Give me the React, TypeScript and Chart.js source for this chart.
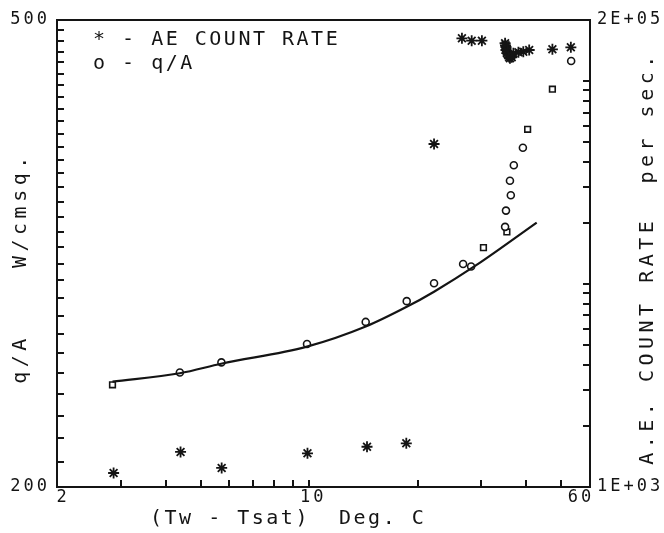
import React, { useEffect, useRef } from "react";
import { Chart, registerables } from "chart.js";

Chart.register(...registerables);

// q/A (W/cmsq.) measured points
const QA_X = [2.85, 4.38, 5.71, 9.86, 14.34, 18.63, 22.18, 26.7, 28.1, 30.4, 35.3, 34.9, 35.1, 36.2, 36.0, 36.9, 39.1, 40.3, 47.2, 53.2];
const QA_Y = [244.4, 250.4, 255.4, 264.8, 276.5, 288.0, 298.3, 309.8, 308.3, 319.9, 329.9, 333.2, 344.0, 354.5, 364.8, 376.0, 389.2, 403.5, 436.5, 461.3];
const QA_SQUARE = [0, 9, 10, 17, 18];

// fitted curve
const FIT_X = [2.85, 4.38, 5.7, 9.86, 14.34, 18.63, 22.18, 29.1, 42.7];
const FIT_Y = [245.9, 250.0, 254.7, 263.4, 274.0, 284.8, 293.4, 309.2, 336.0];

// AE count rate (per sec.)
const AE_X = [2.87, 4.40, 5.72, 9.89, 14.46, 18.58, 22.18, 26.5, 28.2, 30.1, 34.9, 35.0, 35.1, 35.1, 35.3, 35.4, 35.6, 35.8, 36.0, 36.2, 36.4, 36.8, 38.0, 39.2, 40.7, 47.2, 53.1];
const AE_Y = [1172, 1488, 1241, 1466, 1579, 1642, 48980, 162500, 158200, 158200, 153600, 150000, 147200, 142300, 137500, 140000, 134500, 131400, 129500, 132900, 131000, 137100, 138700, 139600, 142300, 143400, 146700];

// axis ticks
const X_TICKS = [3, 4, 5, 6, 7, 8, 9, 10, 20, 30, 40, 50];
const Y_TICKS = [210, 220, 230, 240, 250, 260, 270, 280, 290, 300, 310, 320, 330, 340, 350, 360, 370, 380, 390, 400, 410, 420, 430, 440, 450, 460, 470, 480, 490];
const Y2_TICKS = [2000, 3000, 4000, 5000, 6000, 7000, 8000, 9000, 10000, 20000, 30000, 40000, 50000, 60000, 70000, 80000, 90000, 100000];
const X_LABELS = [[2, "2"], [10, "10"], [60, "60"]] as [number, string][];
const Y_LABELS = [[500, "500"], [200, "200"]] as [number, string][];
const Y2_LABELS = [[200000, "2E+05"], [1000, "1E+03"]] as [number, string][];

const X_TITLE = "(Tw - Tsat)  Deg. C";
const Y_TITLE = "q/A    W/cmsq.";
const Y2_TITLE = "A.E. COUNT RATE  per sec.";
const LEGEND_AE = "* - AE COUNT RATE";
const LEGEND_QA = "o - q/A";

const INK = "#141414";
const MONO = '"DejaVu Sans Mono", monospace';

const plotterPlugin = {
  id: "plotter",
  afterDraw(chart: any) {
    const { ctx, chartArea: a, scales } = chart;
    const sx = scales.x, sy = scales.y, sy2 = scales.y2;
    ctx.save();
    ctx.strokeStyle = INK;
    ctx.fillStyle = INK;
    ctx.lineWidth = 2;
    ctx.lineCap = "butt";
    ctx.beginPath();
    ctx.moveTo(a.left, a.top);
    ctx.lineTo(a.right, a.top);
    ctx.stroke();
    ctx.beginPath();
    for (const v of X_TICKS) {
      const p = Math.round(sx.getPixelForValue(v));
      ctx.moveTo(p, a.bottom);
      ctx.lineTo(p, a.bottom - 7);
    }
    for (const v of Y_TICKS) {
      const p = Math.round(sy.getPixelForValue(v));
      ctx.moveTo(a.left, p);
      ctx.lineTo(a.left + 7, p);
    }
    for (const v of Y2_TICKS) {
      const p = Math.round(sy2.getPixelForValue(v));
      ctx.moveTo(a.right, p);
      ctx.lineTo(a.right - 7, p);
    }
    ctx.stroke();

    // tick labels
    ctx.font = "17px " + MONO;
    (ctx as any).letterSpacing = "3px";
    ctx.textBaseline = "middle";
    ctx.textAlign = "right";
    for (const [v, s] of Y_LABELS) ctx.fillText(s, a.left - 7, sy.getPixelForValue(v));
    ctx.textAlign = "left";
    for (const [v, s] of Y2_LABELS) ctx.fillText(s, a.right + 7, sy2.getPixelForValue(v));
    ctx.textAlign = "center";
    X_LABELS.forEach(([v, s], i) => {
      const off = i === 0 ? 6 : i === 1 ? 4 : -9;
      ctx.fillText(s, sx.getPixelForValue(v) + off, a.bottom + 11);
    });

    // titles
    ctx.font = "20px " + MONO;
    (ctx as any).letterSpacing = "2.5px";
    ctx.textAlign = "left";
    ctx.fillText(X_TITLE, 150, 519);

    ctx.save();
    (ctx as any).letterSpacing = "4.5px";
    ctx.translate(21, 268);
    ctx.rotate(-Math.PI / 2);
    ctx.textAlign = "center";
    ctx.fillText(Y_TITLE, 0, 0);
    ctx.restore();

    ctx.save();
    (ctx as any).letterSpacing = "4.5px";
    ctx.translate(648, 258);
    ctx.rotate(-Math.PI / 2);
    ctx.textAlign = "center";
    ctx.fillText(Y2_TITLE, 0, 0);
    ctx.restore();

    // legend
    ctx.textAlign = "left";
    ctx.fillText(LEGEND_AE, 93, 40);
    ctx.fillText(LEGEND_QA, 93, 64);
    ctx.restore();
  },
};

export default function App() {
  const ref = useRef<HTMLCanvasElement | null>(null);
  useEffect(() => {
    if (!ref.current) return;
    const qa = QA_X.map((x, i) => ({ x, y: QA_Y[i] }));
    const fit = FIT_X.map((x, i) => ({ x, y: FIT_Y[i] }));
    const ae = AE_X.map((x, i) => ({ x, y: AE_Y[i] }));
    const chart = new Chart(ref.current, {
      type: "scatter",
      data: {
        datasets: [
          {
            label: "fit",
            type: "line",
            data: fit,
            yAxisID: "y",
            borderColor: INK,
            borderWidth: 2.2,
            pointRadius: 0,
            showLine: true,
            tension: 0.4,
            cubicInterpolationMode: "monotone",
            fill: false,
          } as any,
          {
            label: "q/A",
            data: qa,
            yAxisID: "y",
            pointStyle: (c: any) => (QA_SQUARE.includes(c.dataIndex) ? "rect" : "circle"),
            pointRadius: (c: any) => (QA_SQUARE.includes(c.dataIndex) ? 4 : 3.5),
            borderColor: INK,
            backgroundColor: "#ffffff",
            borderWidth: 1.6,
          } as any,
          {
            label: "AE COUNT RATE",
            data: ae,
            yAxisID: "y2",
            pointStyle: "star",
            pointRadius: 5.5,
            borderColor: INK,
            backgroundColor: INK,
            borderWidth: 1.8,
          } as any,
        ],
      },
      options: {
        animation: false,
        responsive: false,
        maintainAspectRatio: false,
        layout: { padding: { top: 20, left: 0, right: 0, bottom: 0 } },
        plugins: { legend: { display: false }, tooltip: { enabled: false } },
        scales: {
          x: {
            type: "logarithmic",
            position: "bottom",
            min: 2,
            max: 60,
            grid: { display: false },
            ticks: { display: false },
            border: { display: true, color: INK, width: 2 },
            afterFit: (s: any) => { s.height = 46; },
          },
          y: {
            type: "logarithmic",
            position: "left",
            min: 200,
            max: 500,
            grid: { display: false },
            ticks: { display: false },
            border: { display: true, color: INK, width: 2 },
            afterFit: (s: any) => { s.width = 57; },
          },
          y2: {
            type: "logarithmic",
            position: "right",
            min: 1000,
            max: 200000,
            grid: { display: false },
            ticks: { display: false },
            border: { display: true, color: INK, width: 2 },
            afterFit: (s: any) => { s.width = 74; },
          },
        } as any,
      },
      plugins: [plotterPlugin],
    });
    return () => chart.destroy();
  }, []);
  return (
    <div style={{ position: "fixed", left: 0, top: 0, width: 664, height: 533, background: "#fff" }}>
      <canvas ref={ref} width={664} height={533} style={{ display: "block", width: 664, height: 533 }} />
    </div>
  );
}
